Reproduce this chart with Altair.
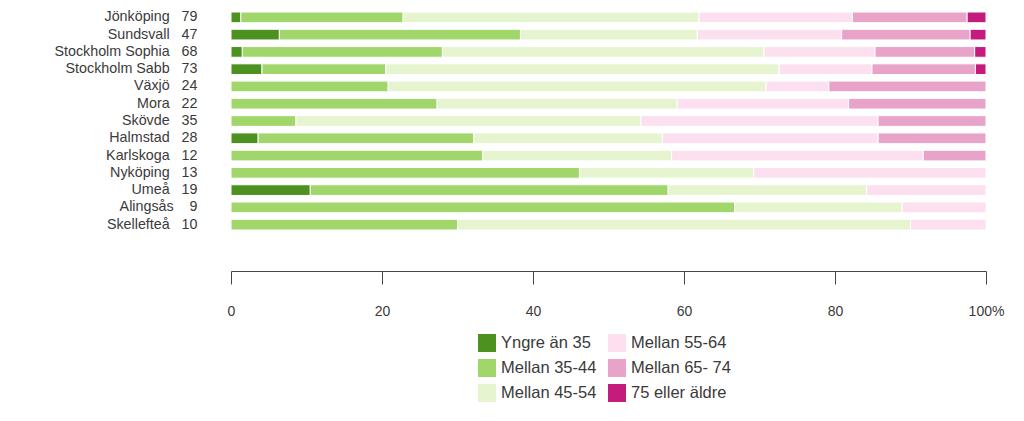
import altair as alt
import pandas as pd

cities = ["Jönköping", "Sundsvall", "Stockholm Sophia", "Stockholm Sabb", "Växjö", "Mora",
          "Skövde", "Halmstad", "Karlskoga", "Nyköping", "Umeå", "Alingsås", "Skellefteå"]
n_resp = [79, 47, 68, 73, 24, 22, 35, 28, 12, 13, 19, 9, 10]

groups = ["Yngre än 35", "Mellan 35-44", "Mellan 45-54", "Mellan 55-64", "Mellan 65- 74", "75 eller äldre"]
colors = ["#4d9221", "#a1d76a", "#e6f5d0", "#fde0ef", "#e9a3c9", "#c51b7d"]

# percentages
yngre_35 = [1.3, 6.4, 1.5, 4.1, 0, 0, 0, 3.6, 0, 0, 10.5, 0, 0]
m35_44 = [21.5, 31.9, 26.5, 16.4, 20.8, 27.3, 8.6, 28.6, 33.3, 46.2, 47.4, 66.7, 30.0]
m45_54 = [39.2, 23.4, 42.6, 52.1, 50.0, 31.8, 45.7, 25.0, 25.0, 23.1, 26.3, 22.2, 60.0]
m55_64 = [20.3, 19.1, 14.7, 12.3, 8.3, 22.7, 31.4, 28.6, 33.3, 30.8, 15.8, 11.1, 10.0]
m65_74 = [15.2, 17.0, 13.2, 13.7, 20.8, 18.2, 14.3, 14.3, 8.3, 0, 0, 0, 0]
over_75 = [2.5, 2.1, 1.5, 1.4, 0, 0, 0, 0, 0, 0, 0, 0, 0]
series = [yngre_35, m35_44, m45_54, m55_64, m65_74, over_75]

NB = "\u00a0"
labels = [f"{c}{NB*3}{str(n).rjust(2).replace(' ', NB)}" for c, n in zip(cities, n_resp)]

rows = []
for i, lab in enumerate(labels):
    for j, g in enumerate(groups):
        v = series[j][i]
        if v > 0:
            rows.append({"label": lab, "group": g, "order": j, "value": v})
df = pd.DataFrame(rows)

FONT = "Liberation Sans"
TXT = "#3a3a3a"

chart = alt.Chart(df).mark_bar(stroke="white", strokeWidth=1).encode(
    x=alt.X("value:Q", stack="normalize",
            scale=alt.Scale(domain=[0, 1], nice=False),
            axis=alt.Axis(title=None, values=[0, 0.2, 0.4, 0.6, 0.8, 1.0],
                          labelExpr="datum.value == 1 ? '100%' : format(datum.value*100, 'd')",
                          offset=41, tickSize=13, labelPadding=20, grid=False,
                          labelFlush=False,
                          domainColor="#444", tickColor="#444", labelColor=TXT,
                          labelFontSize=14, labelFont=FONT)),
    y=alt.Y("label:N", sort=labels,
            scale=alt.Scale(paddingInner=0.38, paddingOuter=0),
            axis=alt.Axis(title=None, ticks=False, tickSize=0, domain=False,
                          labelPadding=34, labelFontSize=14.3, labelFont=FONT,
                          labelColor=TXT)),
    color=alt.Color("group:N",
                    scale=alt.Scale(domain=groups, range=colors),
                    legend=alt.Legend(title=None, orient="none", legendX=247, legendY=322,
                                      columns=2, symbolType="square", symbolSize=324,
                                      symbolStrokeWidth=0, labelFontSize=16.5, labelFont=FONT,
                                      labelColor=TXT, rowPadding=7, columnPadding=11,
                                      labelOffset=5)),
    order=alt.Order("order:Q"),
).properties(
    width=755, height=218, autosize="none",
    padding={"left": 223, "top": 4, "right": 30, "bottom": 175},
).configure_view(stroke=None)

chart.save("out.html", embed_options={"renderer": "svg", "actions": False})
